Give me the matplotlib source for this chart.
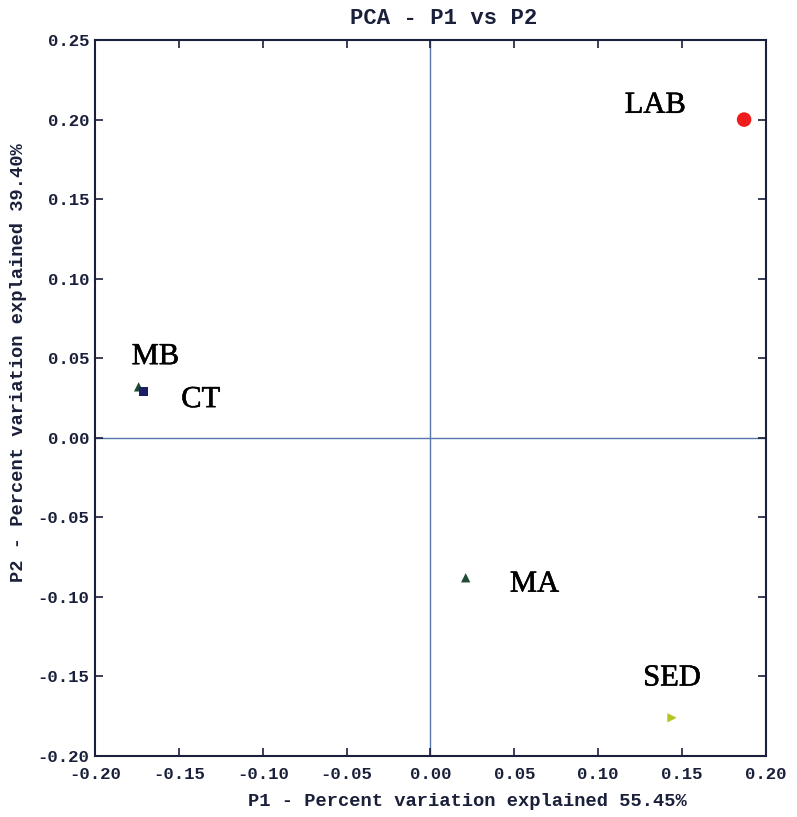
import matplotlib
matplotlib.use("Agg")
import matplotlib.pyplot as plt
import matplotlib.patheffects as pe

# PCA scores
names = ["LAB", "MB", "CT", "MA", "SED"]
p1 = [0.187, -0.174, -0.171, 0.021, 0.144]
p2 = [0.200, 0.032, 0.029, -0.088, -0.176]
markers = ["o", "^", "s", "^", ">"]
colors = ["#ee1c1c", "#1d4a2c", "#1c1f66", "#1f4a35", "#b5c41e"]
sizes = [110, 45, 40, 45, 45]

# label positions
label_x = [0.134, -0.164, -0.137, 0.062, 0.144]
label_y = [0.209, 0.051, 0.024, -0.092, -0.151]

xticks = [-0.20, -0.15, -0.10, -0.05, 0.00, 0.05, 0.10, 0.15, 0.20]
yticks = [-0.20, -0.15, -0.10, -0.05, 0.00, 0.05, 0.10, 0.15, 0.20, 0.25]

ink = "#1a1f3a"
mono = {"family": "Liberation Mono", "weight": "bold", "size": 12.5, "color": ink}

fig = plt.figure(figsize=(7.97, 8.17), dpi=100)
ax = fig.add_axes([0.1192, 0.0747, 0.8418, 0.8763])

ax.axhline(0, color="#5577aa", lw=1.0, zorder=1)
ax.axvline(0, color="#5577aa", lw=1.0, zorder=1)

# scanned look: labels a bit heavier than plain Times
heavy = [pe.withStroke(linewidth=0.4, foreground="black")]
for i in range(len(names)):
    ax.scatter(p1[i], p2[i], marker=markers[i], s=sizes[i], color=colors[i],
               edgecolors="none", zorder=3)
    ax.text(label_x[i], label_y[i], names[i], ha="center", va="center",
            family="Liberation Serif", fontsize=22, color="black", zorder=4,
            path_effects=heavy)

ax.set_xlim(-0.20, 0.20)
ax.set_ylim(-0.20, 0.25)
ax.set_xticks(xticks)
ax.set_yticks(yticks)
ax.set_xticklabels(["%.2f" % v for v in xticks], fontdict=mono)
ax.set_yticklabels(["%.2f" % v for v in yticks], fontdict=mono)
ax.tick_params(direction="in", length=6, width=1.2, color=ink, top=True, right=True)
ax.tick_params(axis="x", pad=8)
ax.tick_params(axis="y", pad=4)
for s in ax.spines.values():
    s.set_color(ink)
    s.set_linewidth(1.5)

fig.text(0.556, 0.977, "PCA - P1 vs P2", ha="center", va="center", **{**mono, "size": 16})
fig.text(0.587, 0.0184, "P1 - Percent variation explained 55.45%", ha="center", va="center",
         **{**mono, "size": 13.5})
fig.text(0.0226, 0.5557, "P2 - Percent variation explained 39.40%", ha="center", va="center",
         rotation=90, **{**mono, "size": 13.5})

fig.savefig("out.png", dpi=100)
